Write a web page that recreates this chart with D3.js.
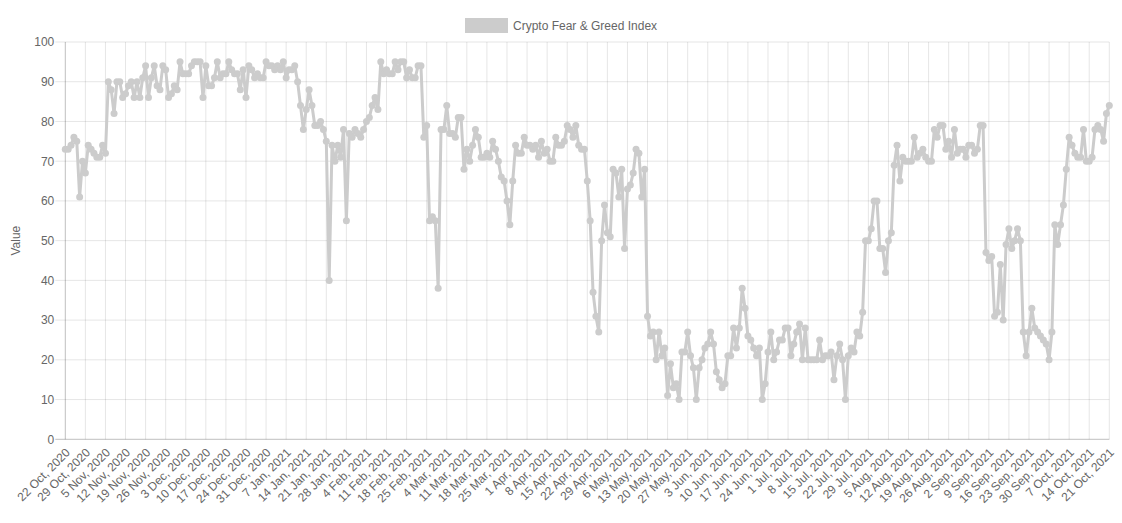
<!DOCTYPE html>
<html>
<head>
<meta charset="utf-8">
<script src="https://cdn.jsdelivr.net/npm/d3@7"></script>
<style>
  html, body { margin: 0; padding: 0; background: #fff; }
  svg { display: block; font-family: "Helvetica Neue", Helvetica, Arial, "Liberation Sans", sans-serif; }
</style>
</head>
<body>
<svg id="chart" width="1122" height="523"></svg>
<script>
// daily index values, one per day starting at startDate
var startDate = new Date(2020, 9, 22);
var seriesName = 'Crypto Fear & Greed Index';
var yTicks = [0, 10, 20, 30, 40, 50, 60, 70, 80, 90, 100];
var values = [
    73, 73, 74, 76, 75, 61, 70, 67, 74, 73, 72, 71, 71, 74, 72,
    90, 88, 82, 90, 90, 86, 87, 89, 90, 86, 90, 86, 91, 94, 86,
    91, 94, 89, 88, 94, 93, 86, 87, 89, 88, 95, 92, 92, 92, 94,
    95, 95, 95, 86, 94, 89, 89, 91, 95, 91, 92, 92, 95, 93, 92,
    92, 88, 93, 86, 94, 93, 91, 92, 91, 91, 95, 94, 94, 93, 94,
    93, 95, 91, 93, 93, 94, 90, 84, 78, 83, 88, 84, 79, 79, 80,
    78, 75, 40, 74, 70, 74, 71, 78, 55, 77, 76, 78, 77, 76, 78,
    80, 81, 84, 86, 83, 95, 92, 93, 92, 92, 95, 93, 95, 95, 91,
    93, 91, 91, 94, 94, 76, 79, 55, 56, 55, 38, 78, 78, 84, 77,
    77, 76, 81, 81, 68, 73, 70, 74, 78, 76, 71, 71, 72, 71, 75,
    73, 70, 66, 65, 60, 54, 65, 74, 72, 72, 76, 74, 74, 73, 74,
    71, 75, 72, 73, 70, 70, 76, 74, 74, 75, 79, 78, 76, 79, 74,
    73, 73, 65, 55, 37, 31, 27, 50, 59, 52, 51, 68, 67, 61, 68,
    48, 63, 64, 67, 73, 72, 61, 68, 31, 26, 27, 20, 27, 21, 23,
    11, 19, 13, 14, 10, 22, 22, 27, 21, 18, 10, 18, 20, 23, 24,
    27, 24, 17, 15, 13, 14, 21, 21, 28, 23, 28, 38, 33, 26, 25,
    23, 21, 23, 10, 14, 22, 27, 20, 22, 25, 25, 28, 28, 21, 24,
    27, 29, 20, 28, 20, 20, 20, 20, 25, 20, 21, 21, 22, 15, 21,
    24, 20, 10, 21, 23, 22, 27, 26, 32, 50, 50, 53, 60, 60, 48,
    48, 42, 50, 52, 69, 74, 65, 71, 70, 70, 70, 76, 71, 72, 73,
    71, 70, 70, 78, 76, 79, 79, 73, 75, 71, 78, 72, 73, 73, 71,
    74, 74, 72, 73, 79, 79, 47, 45, 46, 31, 32, 44, 30, 49, 53,
    48, 50, 53, 50, 27, 21, 27, 33, 28, 27, 26, 25, 24, 20, 27,
    54, 49, 54, 59, 68, 76, 74, 72, 71, 71, 78, 70, 70, 71, 78,
    79, 78, 75, 82, 84
];

var fmt = d3.timeFormat('%-d %b, %Y');
var dates = values.map(function(v, i) { return d3.timeDay.offset(startDate, i); });
var labels = dates.map(fmt);
var tickLabels = labels.filter(function(d, i) { return i % 7 === 0; });

var color = 'rgb(204, 204, 204)';
var textColor = '#666';
var gridColor = 'rgba(0, 0, 0, 0.1)';
var axisColor = 'rgba(0, 0, 0, 0.25)';

var margin = {left: 65.3, right: 1109.3, top: 42, bottom: 439.3};

var svg = d3.select('#chart');

var x = d3.scalePoint()
    .domain(labels)
    .range([margin.left, margin.right]);

var y = d3.scaleLinear()
    .domain([0, 100])
    .range([margin.bottom, margin.top]);

// grid
var grid = svg.append('g').attr('class', 'grid');

grid.selectAll('line.h').data(yTicks).enter().append('line')
    .attr('class', 'h')
    .attr('x1', margin.left - 10)
    .attr('x2', margin.right)
    .attr('y1', function(d) { return y(d); })
    .attr('y2', function(d) { return y(d); })
    .attr('stroke', function(d) { return d === 0 ? axisColor : gridColor; })
    .attr('stroke-width', 1);

grid.selectAll('line.v').data(tickLabels).enter().append('line')
    .attr('class', 'v')
    .attr('x1', function(d) { return x(d); })
    .attr('x2', function(d) { return x(d); })
    .attr('y1', margin.top)
    .attr('y2', margin.bottom)
    .attr('stroke', function(d, i) { return i === 0 ? axisColor : gridColor; })
    .attr('stroke-width', 1);

// y axis
var yAxis = d3.axisLeft(y).tickValues(yTicks).tickSize(0).tickPadding(11);
var gy = svg.append('g')
    .attr('transform', 'translate(' + margin.left + ',0)')
    .call(yAxis);
gy.select('.domain').remove();
gy.selectAll('text')
    .attr('fill', textColor)
    .style('font-size', '12px');

// x axis
var xAxis = d3.axisBottom(x).tickValues(tickLabels).tickSize(0).tickPadding(0);
var gx = svg.append('g')
    .attr('transform', 'translate(0,' + margin.bottom + ')')
    .call(xAxis);
gx.select('.domain').remove();
gx.selectAll('text')
    .attr('fill', textColor)
    .style('font-size', '12px')
    .attr('text-anchor', 'end')
    .attr('y', 0)
    .attr('dy', 0)
    .attr('transform', 'translate(5,14) rotate(-45)');

// axis title
svg.append('text')
    .attr('transform', 'translate(20,' + ((margin.top + margin.bottom) / 2) + ') rotate(-90)')
    .attr('text-anchor', 'middle')
    .attr('fill', textColor)
    .style('font-size', '12px')
    .text('Value');

// series
var line = d3.line()
    .x(function(d, i) { return x(labels[i]); })
    .y(function(d) { return y(d); });

svg.append('path')
    .datum(values)
    .attr('d', line)
    .attr('fill', 'none')
    .attr('stroke', color)
    .attr('stroke-width', 3)
    .attr('stroke-linejoin', 'round');

svg.append('g').selectAll('circle').data(values).enter().append('circle')
    .attr('cx', function(d, i) { return x(labels[i]); })
    .attr('cy', function(d) { return y(d); })
    .attr('r', 3.5)
    .attr('fill', color);

// legend
var legend = svg.append('g').attr('transform', 'translate(465,18)');
legend.append('rect')
    .attr('width', 43)
    .attr('height', 15)
    .attr('fill', color);
legend.append('text')
    .attr('x', 48)
    .attr('y', 7.5)
    .attr('dy', '0.35em')
    .attr('fill', textColor)
    .style('font-size', '12px')
    .text(seriesName);
</script>
</body>
</html>
